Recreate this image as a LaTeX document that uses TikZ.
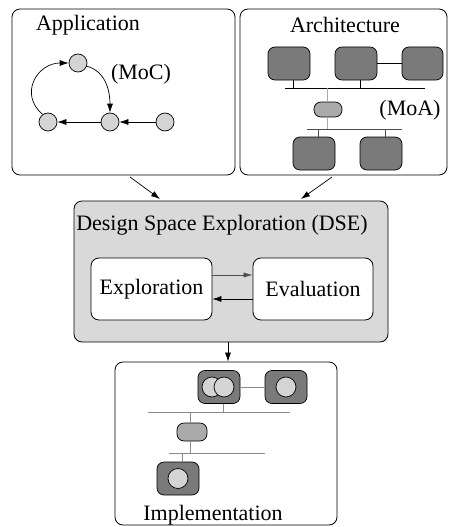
\documentclass[tikz,border=0pt]{standalone}
\usepackage{fontspec}
\setmainfont{Liberation Serif}
\usetikzlibrary{arrows.meta}

\definecolor{panelgray}{HTML}{D9D9D9}
\definecolor{unitgray}{HTML}{7A7A7A}
\definecolor{nodegray}{HTML}{D4D4D4}
\definecolor{busgray}{HTML}{AAAAAA}
\definecolor{wiregray}{HTML}{8A8A8A}

\begin{document}
\begin{tikzpicture}[x=1pt,y=-1pt,
  font=\fontsize{22}{25}\selectfont,
  panel/.style={draw, line width=0.8pt, rounded corners=8pt, inner sep=0pt},
  inner/.style={draw, line width=0.8pt, fill=white, rounded corners=8pt, inner sep=0pt,
                minimum width=121pt, minimum height=62pt},
  proc/.style={draw, line width=0.7pt, fill=unitgray, rounded corners=7pt, inner sep=0pt,
               minimum width=42pt, minimum height=33pt},
  busif/.style={draw, line width=0.7pt, fill=busgray, rounded corners=7pt, inner sep=0pt},
  task/.style={circle, draw, line width=0.7pt, fill=nodegray, inner sep=0pt, minimum size=18pt},
  core/.style={circle, draw, line width=0.7pt, fill=nodegray, inner sep=0pt, minimum size=20pt},
  arr/.style={-{Latex[length=9pt,width=6pt]}, line width=0.7pt},
  thinarr/.style={-{Latex[length=9pt,width=5pt]}, line width=0.5pt, draw=black!70},
  wire/.style={line width=0.8pt},
  gwire/.style={line width=0.8pt, draw=wiregray}
]
\useasboundingbox (0,0) rectangle (450,527);

% ---------- top panels ----------
\node[panel, minimum width=223pt, minimum height=166pt] (app) at (123.5,92) {};
\node[panel, minimum width=207pt, minimum height=166pt] (arch) at (343.5,92) {};
\node (apptitle) at (88,25) {Application};
\node (archtitle) at (345,25) {Architecture};

% model of computation: small task graph
\node[task] (tt) at (78,63) {};
\node[task] (tl) at (48,122) {};
\node[task] (tm) at (110,122) {};
\node[task] (tr) at (165,122) {};
\node (moc) at (141,74) {(MoC)};
\draw[arr] (tr) -- (tm);
\draw[arr] (tm) -- (tl);
\draw[arr] (tt.-20) to[out=-15,in=90] (tm.north);
\draw[arr] (tl.125) to[out=140,in=180,looseness=1.4] (tt.west);

% model of architecture: processors on two buses
\node[proc] (p1) at (289,63.5) {};
\node[proc] (p2) at (356,63.5) {};
\node[proc, minimum width=41pt] (p3) at (422.5,63.5) {};
\node[proc] (p4) at (314,153.5) {};
\node[proc] (p5) at (381,153.5) {};
\node[busif, minimum width=28pt, minimum height=15pt] (br) at (328,109.5) {};
\node (moa) at (410,110) {(MoA)};
\coordinate (busAl) at (285,88);
\coordinate (busAr) at (425,88);
\coordinate (busBl) at (307,129);
\coordinate (busBr) at (402,129);
\draw[wire] (busAl) -- (busAr);
\draw[wire] (p2.east) -- (p3.west);
\draw[wire] (p1.south -| 293,0) -- (293,88);
\draw[wire] (p2.south -| 360,0) -- (360,88);
\draw[gwire, draw=busgray] (327,88) -- (br.north -| 327,0);
\draw[gwire, draw=busgray] (br.south -| 327,0) -- (327,129);
\draw[wire, draw=black!70] (busBl) -- (busBr);
\draw[wire, draw=black!70] (318,129) -- (p4.north -| 318,0);
\draw[wire, draw=black!70] (385,129) -- (p5.north -| 385,0);

% ---------- design space exploration ----------
\node[panel, fill=panelgray, minimum width=314pt, minimum height=141pt] (dse) at (231,271.5) {};
\node (dsetitle) at (222,225) {Design Space Exploration (DSE)};
\node[inner] (expl) at (151.5,289) {Exploration};
\node[inner, minimum width=120pt] (eval) at (313,289) {Evaluation};
\draw[thinarr] (expl.east |- 0,275) -- (eval.west |- 0,275);
\draw[arr] (eval.west |- 0,299) -- (expl.east |- 0,299);

\draw[arr] (130,177) -- (160,199);
\draw[arr] (332,177) -- (301,199);

% ---------- implementation ----------
\node[panel, minimum width=222pt, minimum height=163pt] (impl) at (226,443.5) {};
\node (impltitle) at (213,515) {Implementation};
\draw[arr] (dse.south -| 228,0) -- (impl.north -| 228,0);

\node[proc] (q1) at (219,387) {};
\node[proc] (q2) at (286,387) {};
\node[proc] (q3) at (178,478.5) {};
\node[core] (c1a) at (212,387) {};
\node[core] (c1b) at (224,387) {};
\node[core] (c2) at (286,387) {};
\node[core] (c3) at (178,478.5) {};
\node[busif, minimum width=30pt, minimum height=18pt] (ib) at (192,432) {};
\coordinate (ibusAl) at (148,412);
\coordinate (ibusAr) at (290,412);
\coordinate (ibusBl) at (169,453);
\coordinate (ibusBr) at (265,453);
\draw[gwire] (q1.east) -- (q2.west);
\draw[gwire] (ibusAl) -- (ibusAr);
\draw[gwire] (223,403.5) -- (223,412);
\draw[gwire] (190,412) -- (ib.north -| 190,0);
\draw[gwire] (ib.south -| 190,0) -- (190,453);
\draw[gwire] (ibusBl) -- (ibusBr);
\draw[gwire] (182,453) -- (q3.north -| 182,0);
\end{tikzpicture}
\end{document}
